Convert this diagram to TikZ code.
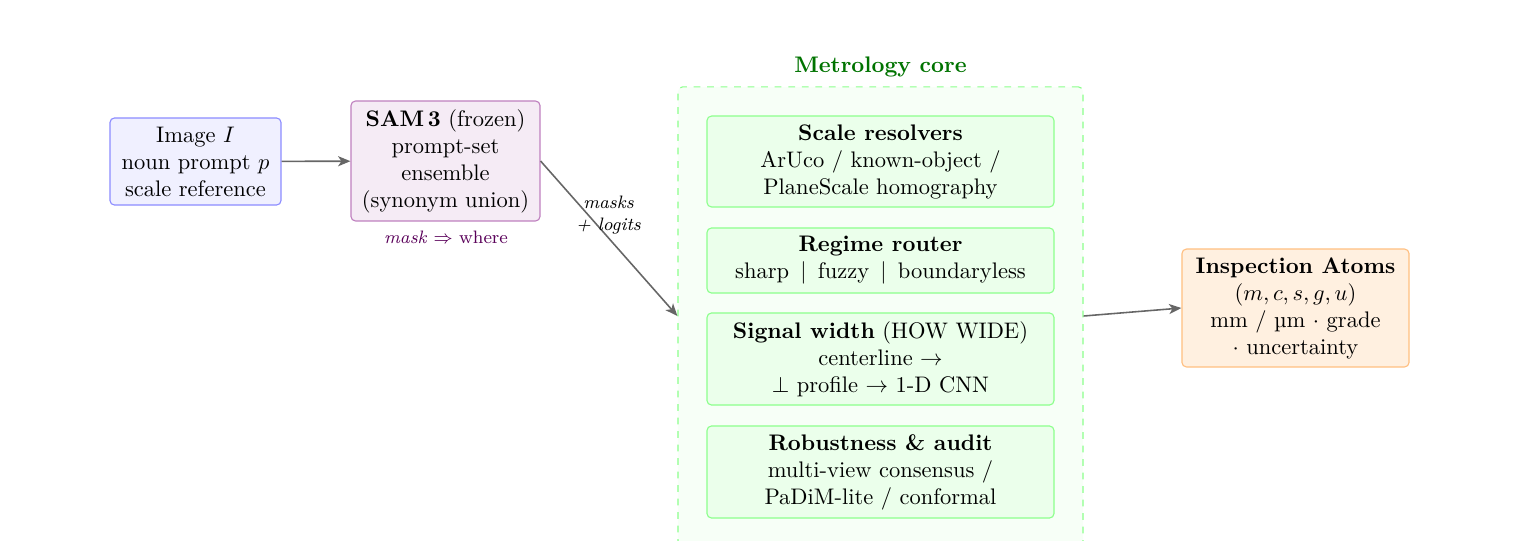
\documentclass[tikz,border=0pt]{standalone}
\usetikzlibrary{arrows.meta}
\begin{document}
\begin{tikzpicture}[x=0.4444pt,y=-0.4444pt,
  box/.style={draw, rounded corners=2pt, align=center, line width=0.5pt, inner sep=2pt},
  inbox/.style={box, fill=green!8, draw=green!45, minimum width=154.2pt},
  conn/.style={draw=black!60, line width=0.7pt, -{Stealth[length=5.5pt,width=4.5pt,inset=1.5pt]}},
  lbl/.style={font=\footnotesize, align=center}]
\useasboundingbox (0,0) rectangle (1520,540);
\node[box, fill=blue!6, draw=blue!45, minimum width=76pt, minimum height=38.7pt] (img) at (195.5,161.5)
  {Image $I$\\ noun prompt $p$\\ scale reference};
\node[box, fill=violet!8, draw=violet!50, minimum width=84pt, minimum height=53.3pt] (sam) at (445.5,161)
  {\textbf{SAM\,3} (frozen)\\ prompt-set\\ ensemble\\ (synonym union)};
\node[lbl, text=violet!70!black] (samlbl) at (446,237) {\textit{mask} $\Rightarrow$ where};
\node[draw=green!45, dashed, fill=green!3, rounded corners=2pt, line width=0.5pt, minimum width=180pt, minimum height=203.6pt] (core) at (880.5,316) {};
\node[font=\bfseries, text=green!45!black] (coretitle) at (880.5,67) {Metrology core};
\node[inbox, minimum height=40.4pt] (scale) at (880.5,161.5)
  {\textbf{Scale resolvers}\\ ArUco / known-object /\\ PlaneScale homography};
\node[inbox, minimum height=28.9pt] (regime) at (880.5,260.5)
  {\textbf{Regime router}\\ sharp \,$|$\, fuzzy \,$|$\, boundaryless};
\node[inbox, minimum height=40.9pt] (signal) at (880.5,359)
  {\textbf{Signal width} (HOW WIDE)\\ centerline $\to$\\ $\perp$ profile $\to$ 1-D CNN};
\node[inbox, minimum height=40.9pt] (robust) at (880.5,472)
  {\textbf{Robustness \& audit}\\ multi-view consensus /\\ PaDiM-lite / conformal};
\node[box, fill=orange!12, draw=orange!50, minimum width=100.9pt, minimum height=52.4pt] (insp) at (1295.5,308)
  {\textbf{Inspection Atoms}\\ $(m,c,s,g,u)$\\ mm / µm $\cdot$ grade\\ $\cdot$ uncertainty};
\draw[conn] (img) -- (sam);
\draw[conn] (sam.east) -- node[lbl, pos=0.35, xshift=8.9pt] {\textit{masks}\\ \textit{+ logits}} (core.west);
\draw[conn] (core.east) -- (insp.west);
\end{tikzpicture}
\end{document}
